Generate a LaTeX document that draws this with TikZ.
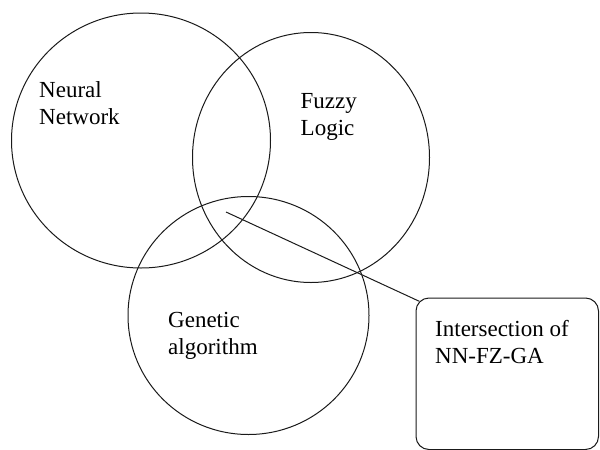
\documentclass[tikz,border=0pt]{standalone}
\usepackage{fontspec}
\setmainfont{Liberation Serif}
\usepackage{tikz}
\usetikzlibrary{positioning,shapes.geometric}
\definecolor{InkLine}{HTML}{1A1A1A}

\tikzset{
  ring/.style={ellipse, draw=InkLine, line width=1pt, inner sep=0pt},
  venntext/.style={anchor=base west, align=left, inner sep=0pt,
    font=\fontsize{23}{26.5}\selectfont}
}

\begin{document}
\begin{tikzpicture}[x=1pt, y=-1pt]
    \useasboundingbox (0,0) rectangle (600,450);

    % the three sets
    \node[ring, minimum width=259pt, minimum height=255pt] (nn) at (141,140.5) {};
    \node[ring, minimum width=237pt, minimum height=250pt] (fz) at (311,157.5) {};
    \node[ring, minimum width=241pt, minimum height=238pt] (ga) at (248.5,315.5) {};

    % base west sits on the last line
    \node[venntext] (nntext) at (39,124) {Neural\\Network};
    \node[venntext] (fztext) at (300.5,135) {Fuzzy\\Logic};
    \node[venntext] (gatext) at (168,354) {Genetic\\algorithm};

    % callout
    \node[
      draw=InkLine,
      line width=1pt,
      rounded corners=13pt,
      minimum width=182.5pt,
      minimum height=151.5pt,
      inner sep=0pt
    ] (ibox) at (507.25,373.75) {};
    \node[venntext] (itext) at (435,363) {Intersection of\\NN-FZ-GA};

    \coordinate (core) at (226,212);
    \draw[InkLine, line width=1pt] (core) -- ([xshift=3.8pt, yshift=-3.8pt]ibox.north west);
  \end{tikzpicture}
\end{document}
